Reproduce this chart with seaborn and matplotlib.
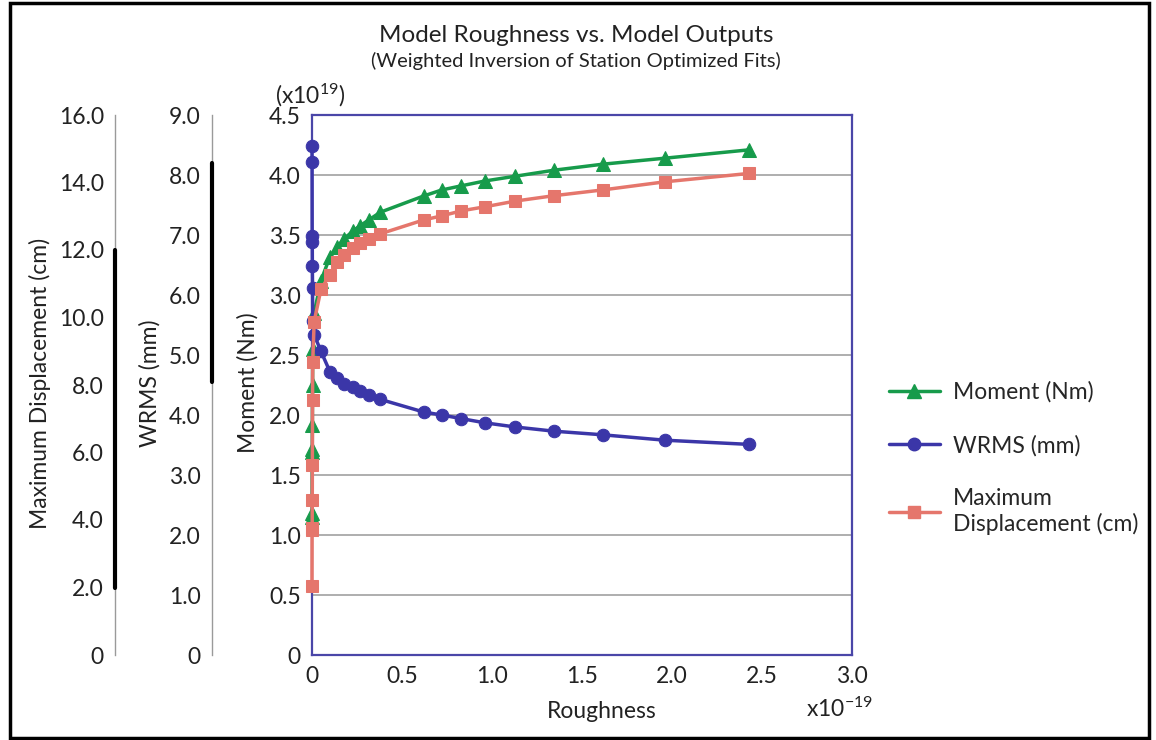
import matplotlib
matplotlib.use("Agg")
import matplotlib.pyplot as plt
import seaborn as sns
from matplotlib.ticker import FuncFormatter, FixedLocator
from matplotlib.lines import Line2D
from matplotlib.patches import Rectangle
import matplotlib.transforms as mtransforms

# ---------------- data (roughness in 1e-19, moment in 1e19 Nm) ----------------
roughness = [0.0, 0.0005, 0.001, 0.0015, 0.002, 0.003, 0.004, 0.012, 0.05,
             0.10, 0.14, 0.18, 0.225, 0.265, 0.315, 0.38,
             0.62, 0.72, 0.83, 0.96, 1.13, 1.345, 1.615, 1.96, 2.43]
moment = [1.15, 1.18, 1.69, 1.72, 1.92, 2.25, 2.55, 2.85, 3.12,
          3.32, 3.40, 3.47, 3.53, 3.575, 3.625, 3.69,
          3.825, 3.875, 3.91, 3.95, 3.99, 4.04, 4.09, 4.14, 4.21]
wrms = [8.48, 8.22, 6.98, 6.88, 6.48, 6.12, 5.56, 5.34, 5.06,
        4.72, 4.62, 4.52, 4.46, 4.40, 4.34, 4.26,
        4.05, 4.00, 3.94, 3.87, 3.80, 3.73, 3.67, 3.58, 3.51]
max_disp = [2.03, 3.70, 3.77, 4.59, 5.62, 7.57, 8.68, 9.88, 10.84,
            11.27, 11.63, 11.84, 12.05, 12.20, 12.34, 12.48,
            12.89, 13.01, 13.16, 13.28, 13.45, 13.61, 13.78, 14.02, 14.27]

series_labels = ["Moment (Nm)", "WRMS (mm)", "Maximum\nDisplacement (cm)"]
x_ticks = [0, 0.5, 1.0, 1.5, 2.0, 2.5, 3.0]
moment_ticks = [0, 0.5, 1.0, 1.5, 2.0, 2.5, 3.0, 3.5, 4.0, 4.5]
wrms_ticks = [0, 1, 2, 3, 4, 5, 6, 7, 8, 9]
disp_ticks = [0, 2, 4, 6, 8, 10, 12, 14, 16]
wrms_bar = [4.55, 8.2]
disp_bar = [2.0, 12.0]

title = "Model Roughness vs. Model Outputs"
subtitle = "(Weighted Inversion of Station Optimized Fits)"

# ---------------- style ----------------
sns.set_theme(style="white")
plt.rcParams['font.family'] = ['Lato', 'DejaVu Sans']
plt.rcParams['mathtext.fontset'] = 'custom'
plt.rcParams['mathtext.rm'] = 'Lato'
plt.rcParams['mathtext.it'] = 'Lato'
plt.rcParams['mathtext.default'] = 'rm'

green = "#179b4b"
blue = "#3b36a8"
salmon = "#e5766c"
spine_c = "#4a46a8"
grid_c = "#a8a8a8"
side_c = "#9a9a9a"
text_c = "#222222"
FS = 16.5

W, H = 1156, 740
L, R, T, B = 312, 852, 115, 655
fig = plt.figure(figsize=(W / 100, H / 100), dpi=100)
fig.patch.set_facecolor("white")
rect = [L / W, 1 - B / H, (R - L) / W, (B - T) / H]

ax = fig.add_axes(rect)
ax_w = fig.add_axes(rect, sharex=ax)
ax_d = fig.add_axes(rect, sharex=ax)
for a in (ax_w, ax_d):
    a.patch.set_visible(False)

fmt = FuncFormatter(lambda v, _: "0" if abs(v) < 1e-9 else f"{v:.1f}")

# ---------------- series ----------------
sns.lineplot(x=roughness, y=moment, ax=ax, color=green, marker="^",
             markersize=9.5, markeredgecolor=green, linewidth=2.5,
             sort=False, estimator=None, clip_on=False)
sns.lineplot(x=roughness, y=wrms, ax=ax_w, color=blue, marker="o",
             markersize=9, markeredgecolor=blue, linewidth=2.5,
             sort=False, estimator=None, clip_on=False)
sns.lineplot(x=roughness, y=max_disp, ax=ax_d, color=salmon, marker="s",
             markersize=9, markeredgecolor=salmon, linewidth=2.5,
             sort=False, estimator=None, clip_on=False)

# ---------------- main axis ----------------
ax.set_xlim(0, 3.0)
ax.set_ylim(0, 4.5)
ax.xaxis.set_major_locator(FixedLocator(x_ticks))
ax.yaxis.set_major_locator(FixedLocator(moment_ticks))
ax.xaxis.set_major_formatter(fmt)
ax.yaxis.set_major_formatter(fmt)
ax.set_axisbelow(True)
ax.yaxis.grid(True, color=grid_c, linewidth=1.3)
ax.xaxis.grid(False)
for s in ax.spines.values():
    s.set_color(spine_c)
    s.set_linewidth(1.6)
ax.tick_params(axis="both", direction="out", length=4, width=1,
               color=spine_c, labelsize=FS, labelcolor=text_c, pad=4)
ax.set_xlabel("")
ax.set_ylabel("")

# ---------------- extra y axes ----------------
for a, ticks, lim, off in ((ax_w, wrms_ticks, 9, (212 - L) / (R - L)),
                           (ax_d, disp_ticks, 16, (115 - L) / (R - L))):
    a.set_ylim(0, lim)
    a.yaxis.set_major_locator(FixedLocator(ticks))
    a.yaxis.set_major_formatter(fmt)
    for k in ("top", "right", "bottom"):
        a.spines[k].set_visible(False)
    a.spines["left"].set_position(("axes", off))
    a.spines["left"].set_color(side_c)
    a.spines["left"].set_linewidth(1.0)
    a.tick_params(axis="y", direction="out", length=4, width=1,
                  color=side_c, labelsize=FS, labelcolor=text_c, pad=4)
    a.tick_params(axis="x", bottom=False, labelbottom=False)
    a.grid(False)
    a.set_xlabel("")
    a.set_ylabel("")

# thick black range bars on the side axes
for a, bar, off in ((ax_w, wrms_bar, (212 - L) / (R - L)),
                    (ax_d, disp_bar, (115 - L) / (R - L))):
    tr = mtransforms.blended_transform_factory(a.transAxes, a.transData)
    a.add_line(Line2D([off, off], bar, transform=tr, color="black",
                      linewidth=3, clip_on=False, zorder=5))

# ---------------- texts ----------------
fig.text(576 / W, 1 - 35 / H, title, ha="center", va="center",
         fontsize=17.5, color=text_c)
fig.text(576 / W, 1 - 61 / H, subtitle, ha="center", va="center",
         fontsize=14.5, color=text_c)
fig.text(248 / W, 1 - 383 / H, "Moment (Nm)", rotation=90, ha="center",
         va="center", fontsize=FS, color=text_c)
fig.text(150 / W, 1 - 383 / H, "WRMS (mm)", rotation=90, ha="center",
         va="center", fontsize=FS, color=text_c)
fig.text(40 / W, 1 - 383 / H, "Maximum Displacement (cm)", rotation=90,
         ha="center", va="center", fontsize=FS, color=text_c)
fig.text(602 / W, 1 - 711 / H, "Roughness", ha="center", va="center",
         fontsize=FS, color=text_c)
fig.text(310 / W, 1 - 95 / H, r"(x10$^{19}$)", ha="center", va="center",
         fontsize=FS, color=text_c)
fig.text(840 / W, 1 - 709 / H, r"x10$^{-19}$", ha="center", va="center",
         fontsize=FS, color=text_c)

# ---------------- legend ----------------
handles = [
    Line2D([], [], color=green, marker="^", markersize=9.5, linewidth=2.5),
    Line2D([], [], color=blue, marker="o", markersize=9, linewidth=2.5),
    Line2D([], [], color=salmon, marker="s", markersize=9, linewidth=2.5),
]
fig.legend(handles, series_labels, loc="upper left",
           bbox_to_anchor=(880 / W, 1 - 372 / H), frameon=False,
           fontsize=FS, handlelength=2.2, handletextpad=0.6,
           labelspacing=1.4, borderaxespad=0)

# ---------------- frame ----------------
fig.patches.append(Rectangle((10 / W, 2 / H), 1139 / W, 735 / H,
                             transform=fig.transFigure, fill=False,
                             edgecolor="black", linewidth=2.5))

fig.savefig("out.png", dpi=100)
